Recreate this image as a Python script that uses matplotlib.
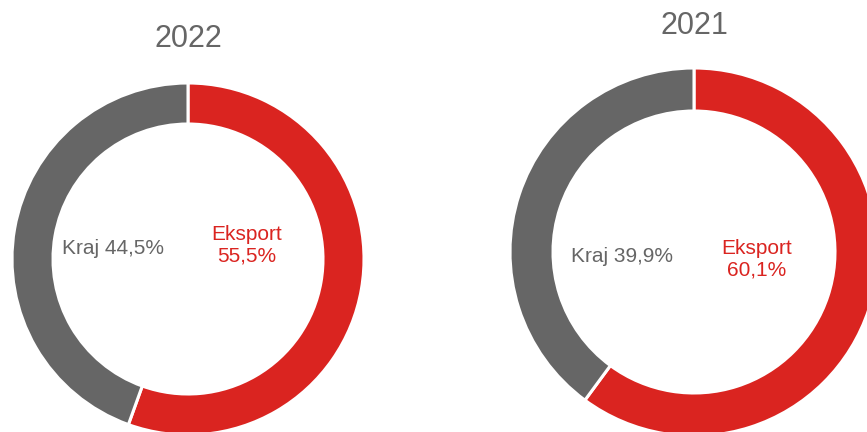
import matplotlib.pyplot as plt

# dane
lata = ["2022", "2021"]
kategorie = ["Eksport", "Kraj"]
eksport = [55.5, 60.1]
kraj = [44.5, 39.9]

kolory = ["#DA2420", "#666666"]
szary_tekst = "#666666"

plt.rcParams['font.family'] = ['Liberation Sans', 'DejaVu Sans']

fig = plt.figure(figsize=(8.67, 4.32), dpi=100)
ax = fig.add_axes([0, 0, 1, 1])

# uklad w pikselach: (srodek x, srodek y, promien, grubosc, y tytulu)
uklad = [
    (188, 432 - 259, 176, 41, 432 - 39),
    (694, 432 - 252, 184, 43, 432 - 26),
]

for i, rok in enumerate(lata):
    cx, cy, r, w, ty = uklad[i]
    ax.pie([eksport[i], kraj[i]], colors=kolory, startangle=90, counterclock=False,
           center=(cx, cy), radius=r,
           wedgeprops=dict(width=w, edgecolor='white', linewidth=2.2))
    ax.text(cx, ty, rok, ha='center', va='center', fontsize=22, color=szary_tekst)

    txt_e = f"{kategorie[0]}\n{eksport[i]:.1f}%".replace('.', ',')
    txt_k = f"{kategorie[1]} {kraj[i]:.1f}%".replace('.', ',')
    if i == 0:
        ax.text(cx + 59, cy + 14, txt_e, ha='center', va='center', fontsize=15,
                color=kolory[0], linespacing=1.2)
        ax.text(cx - 75, cy + 11, txt_k, ha='center', va='center', fontsize=15,
                color=szary_tekst)
    else:
        ax.text(cx + 63, cy - 7, txt_e, ha='center', va='center', fontsize=15,
                color=kolory[0], linespacing=1.2)
        ax.text(cx - 72, cy - 5, txt_k, ha='center', va='center', fontsize=15,
                color=szary_tekst)

ax.set_xlim(0, 867)
ax.set_ylim(0, 432)
ax.set_aspect('auto')
ax.axis('off')

plt.savefig('out.png', dpi=100)
